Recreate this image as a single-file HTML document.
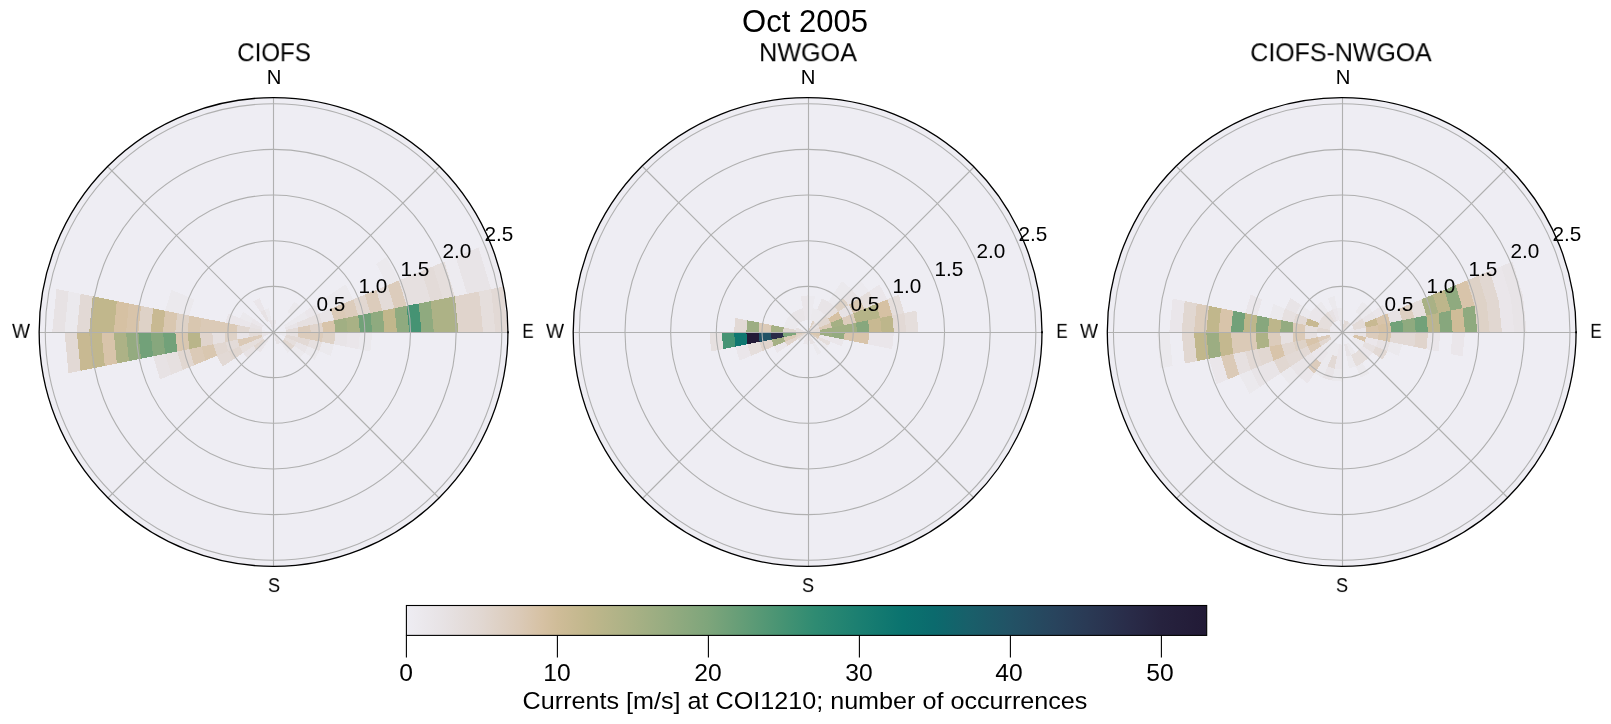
<!DOCTYPE html>
<html><head><meta charset="utf-8"><title>Oct 2005</title>
<style>
html,body{margin:0;padding:0;background:#fff;}
body{width:1611px;height:724px;position:relative;overflow:hidden;font-family:"Liberation Sans",sans-serif;color:#000;}
.t{position:absolute;white-space:nowrap;line-height:1;will-change:transform;}
</style></head><body>
<svg width="1611" height="724" viewBox="0 0 1611 724" style="position:absolute;left:0;top:0">
<defs>
<clipPath id="clip0"><circle cx="273.55" cy="332.00" r="234.40"/></clipPath>
<clipPath id="clip1"><circle cx="807.60" cy="332.00" r="234.40"/></clipPath>
<clipPath id="clip2"><circle cx="1341.70" cy="332.00" r="234.40"/></clipPath>
<linearGradient id="cb" x1="0" y1="0" x2="1" y2="0">
<stop offset="0.0000" stop-color="#eeedf3"/>
<stop offset="0.0470" stop-color="#e7e2e4"/>
<stop offset="0.0940" stop-color="#e1d7d1"/>
<stop offset="0.1400" stop-color="#dbcab8"/>
<stop offset="0.1700" stop-color="#d6c1a3"/>
<stop offset="0.1890" stop-color="#cfbc98"/>
<stop offset="0.2260" stop-color="#c1b78c"/>
<stop offset="0.2830" stop-color="#a9b185"/>
<stop offset="0.3300" stop-color="#94ab80"/>
<stop offset="0.3770" stop-color="#7ea57b"/>
<stop offset="0.4200" stop-color="#649d77"/>
<stop offset="0.4700" stop-color="#469373"/>
<stop offset="0.5100" stop-color="#2f8b72"/>
<stop offset="0.5660" stop-color="#1b7f71"/>
<stop offset="0.6200" stop-color="#0a736f"/>
<stop offset="0.6600" stop-color="#0b6a6d"/>
<stop offset="0.7000" stop-color="#18606a"/>
<stop offset="0.7550" stop-color="#225265"/>
<stop offset="0.8100" stop-color="#28445d"/>
<stop offset="0.8500" stop-color="#2a3a55"/>
<stop offset="0.9060" stop-color="#292b48"/>
<stop offset="0.9430" stop-color="#26223e"/>
<stop offset="1.0000" stop-color="#221a36"/>
</linearGradient>
</defs>
<g clip-path="url(#clip0)">
<circle cx="273.55" cy="332.00" r="234.40" fill="#eeedf3"/>
<polygon points="273.80,332.30 273.80,319.99 276.20,320.23 273.80,332.30" fill="#eae6ea" shape-rendering="crispEdges"/>
<polygon points="287.48,311.83 294.32,301.59 299.91,306.19 291.21,314.89" fill="#ebe9ed" shape-rendering="crispEdges"/>
<polygon points="284.04,325.46 294.27,318.62 296.55,322.88 285.17,327.59" fill="#ebe9ed" shape-rendering="crispEdges"/>
<polygon points="294.27,318.62 304.51,311.78 307.92,318.17 296.55,322.88" fill="#ebe9ed" shape-rendering="crispEdges"/>
<polygon points="304.51,311.78 314.74,304.94 319.29,313.46 307.92,318.17" fill="#eae6ea" shape-rendering="crispEdges"/>
<polygon points="324.98,298.10 335.21,291.27 342.04,304.04 330.66,308.75" fill="#ebe9ed" shape-rendering="crispEdges"/>
<polygon points="335.21,291.27 345.45,284.43 353.41,299.32 342.04,304.04" fill="#ebe9ed" shape-rendering="crispEdges"/>
<polygon points="376.15,263.91 386.39,257.07 398.90,280.48 387.53,285.19" fill="#ebe9ed" shape-rendering="crispEdges"/>
<polygon points="285.17,327.59 296.55,322.88 297.95,327.50 285.87,329.90" fill="#e8e4e7" shape-rendering="crispEdges"/>
<polygon points="296.55,322.88 307.92,318.17 310.02,325.10 297.95,327.50" fill="#e6e0e0" shape-rendering="crispEdges"/>
<polygon points="307.92,318.17 319.29,313.46 322.09,322.69 310.02,325.10" fill="#e6e0e0" shape-rendering="crispEdges"/>
<polygon points="319.29,313.46 330.66,308.75 334.17,320.29 322.09,322.69" fill="#e8e4e7" shape-rendering="crispEdges"/>
<polygon points="330.66,308.75 342.04,304.04 346.24,317.89 334.17,320.29" fill="#dbcab7" shape-rendering="crispEdges"/>
<polygon points="342.04,304.04 353.41,299.32 358.31,315.49 346.24,317.89" fill="#dcccbc" shape-rendering="crispEdges"/>
<polygon points="353.41,299.32 364.78,294.61 370.39,313.09 358.31,315.49" fill="#e1d7d1" shape-rendering="crispEdges"/>
<polygon points="364.78,294.61 376.16,289.90 382.46,310.69 370.39,313.09" fill="#dcccbc" shape-rendering="crispEdges"/>
<polygon points="376.16,289.90 387.53,285.19 394.53,308.28 382.46,310.69" fill="#e3dbd8" shape-rendering="crispEdges"/>
<polygon points="387.53,285.19 398.90,280.48 406.61,305.88 394.53,308.28" fill="#dcccbc" shape-rendering="crispEdges"/>
<polygon points="398.90,280.48 410.28,275.77 418.68,303.48 406.61,305.88" fill="#e6e0e0" shape-rendering="crispEdges"/>
<polygon points="410.28,275.77 421.65,271.06 430.76,301.08 418.68,303.48" fill="#e6e0e0" shape-rendering="crispEdges"/>
<polygon points="421.65,271.06 433.02,266.35 442.83,298.68 430.76,301.08" fill="#e3dbd8" shape-rendering="crispEdges"/>
<polygon points="433.02,266.35 444.39,261.64 454.90,296.28 442.83,298.68" fill="#e5dedc" shape-rendering="crispEdges"/>
<polygon points="444.39,261.64 455.77,256.93 466.98,293.88 454.90,296.28" fill="#edebf0" shape-rendering="crispEdges"/>
<polygon points="455.77,256.93 467.14,252.22 479.05,291.47 466.98,293.88" fill="#e8e4e7" shape-rendering="crispEdges"/>
<polygon points="467.14,252.22 478.51,247.51 491.12,289.07 479.05,291.47" fill="#e8e4e7" shape-rendering="crispEdges"/>
<polygon points="478.51,247.51 489.89,242.79 503.20,286.67 491.12,289.07" fill="#edebf0" shape-rendering="crispEdges"/>
<polygon points="273.80,332.30 285.87,329.90 286.11,332.30 273.80,332.30" fill="#edebf0" shape-rendering="crispEdges"/>
<polygon points="285.87,329.90 297.95,327.50 298.42,332.30 286.11,332.30" fill="#e3dbd8" shape-rendering="crispEdges"/>
<polygon points="297.95,327.50 310.02,325.10 310.73,332.30 298.42,332.30" fill="#dcccbc" shape-rendering="crispEdges"/>
<polygon points="310.02,325.10 322.09,322.69 323.04,332.30 310.73,332.30" fill="#e0d4cc" shape-rendering="crispEdges"/>
<polygon points="322.09,322.69 334.17,320.29 335.35,332.30 323.04,332.30" fill="#d8c4aa" shape-rendering="crispEdges"/>
<polygon points="334.17,320.29 346.24,317.89 347.66,332.30 335.35,332.30" fill="#a1af83" shape-rendering="crispEdges"/>
<polygon points="346.24,317.89 358.31,315.49 359.97,332.30 347.66,332.30" fill="#a9b185" shape-rendering="crispEdges"/>
<polygon points="358.31,315.49 370.39,313.09 372.28,332.30 359.97,332.30" fill="#72a179" shape-rendering="crispEdges"/>
<polygon points="370.39,313.09 382.46,310.69 384.59,332.30 372.28,332.30" fill="#8faa7f" shape-rendering="crispEdges"/>
<polygon points="382.46,310.69 394.53,308.28 396.90,332.30 384.59,332.30" fill="#c1b78c" shape-rendering="crispEdges"/>
<polygon points="394.53,308.28 406.61,305.88 409.21,332.30 396.90,332.30" fill="#8faa7f" shape-rendering="crispEdges"/>
<polygon points="406.61,305.88 418.68,303.48 421.52,332.30 409.21,332.30" fill="#459373" shape-rendering="crispEdges"/>
<polygon points="418.68,303.48 430.76,301.08 433.83,332.30 421.52,332.30" fill="#8faa7f" shape-rendering="crispEdges"/>
<polygon points="430.76,301.08 442.83,298.68 446.14,332.30 433.83,332.30" fill="#adb286" shape-rendering="crispEdges"/>
<polygon points="442.83,298.68 454.90,296.28 458.45,332.30 446.14,332.30" fill="#adb286" shape-rendering="crispEdges"/>
<polygon points="454.90,296.28 466.98,293.88 470.76,332.30 458.45,332.30" fill="#e0d4cc" shape-rendering="crispEdges"/>
<polygon points="466.98,293.88 479.05,291.47 483.07,332.30 470.76,332.30" fill="#e0d4cc" shape-rendering="crispEdges"/>
<polygon points="479.05,291.47 491.12,289.07 495.38,332.30 483.07,332.30" fill="#e5dedc" shape-rendering="crispEdges"/>
<polygon points="491.12,289.07 503.20,286.67 507.69,332.30 495.38,332.30" fill="#e2d9d5" shape-rendering="crispEdges"/>
<polygon points="273.80,332.30 286.11,332.30 285.87,334.70 273.80,332.30" fill="#ebe9ed" shape-rendering="crispEdges"/>
<polygon points="286.11,332.30 298.42,332.30 297.95,337.10 285.87,334.70" fill="#e6e0e0" shape-rendering="crispEdges"/>
<polygon points="298.42,332.30 310.73,332.30 310.02,339.50 297.95,337.10" fill="#dcccbc" shape-rendering="crispEdges"/>
<polygon points="310.73,332.30 323.04,332.30 322.09,341.91 310.02,339.50" fill="#dcccbc" shape-rendering="crispEdges"/>
<polygon points="323.04,332.30 335.35,332.30 334.17,344.31 322.09,341.91" fill="#ded2c7" shape-rendering="crispEdges"/>
<polygon points="335.35,332.30 347.66,332.30 346.24,346.71 334.17,344.31" fill="#e8e4e7" shape-rendering="crispEdges"/>
<polygon points="347.66,332.30 359.97,332.30 358.31,349.11 346.24,346.71" fill="#eae6ea" shape-rendering="crispEdges"/>
<polygon points="359.97,332.30 372.28,332.30 370.39,351.51 358.31,349.11" fill="#ebe9ed" shape-rendering="crispEdges"/>
<polygon points="273.80,332.30 285.87,334.70 285.17,337.01 273.80,332.30" fill="#ebe9ed" shape-rendering="crispEdges"/>
<polygon points="285.87,334.70 297.95,337.10 296.55,341.72 285.17,337.01" fill="#e2d9d5" shape-rendering="crispEdges"/>
<polygon points="297.95,337.10 310.02,339.50 307.92,346.43 296.55,341.72" fill="#e2d9d5" shape-rendering="crispEdges"/>
<polygon points="310.02,339.50 322.09,341.91 319.29,351.14 307.92,346.43" fill="#e6e0e0" shape-rendering="crispEdges"/>
<polygon points="322.09,341.91 334.17,344.31 330.66,355.85 319.29,351.14" fill="#ebe9ed" shape-rendering="crispEdges"/>
<polygon points="285.17,337.01 296.55,341.72 294.27,345.98 284.04,339.14" fill="#e5dedc" shape-rendering="crispEdges"/>
<polygon points="296.55,341.72 307.92,346.43 304.51,352.82 294.27,345.98" fill="#e8e4e7" shape-rendering="crispEdges"/>
<polygon points="307.92,346.43 319.29,351.14 314.74,359.66 304.51,352.82" fill="#ebe9ed" shape-rendering="crispEdges"/>
<polygon points="284.04,339.14 294.27,345.98 291.21,349.71 282.50,341.00" fill="#e1d7d1" shape-rendering="crispEdges"/>
<polygon points="294.27,345.98 304.51,352.82 299.91,358.41 291.21,349.71" fill="#ebe9ed" shape-rendering="crispEdges"/>
<polygon points="282.50,341.00 291.21,349.71 287.48,352.77 280.64,342.54" fill="#ebe9ed" shape-rendering="crispEdges"/>
<polygon points="273.80,332.30 280.64,342.54 278.51,343.67 273.80,332.30" fill="#e8e4e7" shape-rendering="crispEdges"/>
<polygon points="273.80,332.30 278.51,343.67 276.20,344.37 273.80,332.30" fill="#e8e4e7" shape-rendering="crispEdges"/>
<polygon points="273.80,332.30 266.96,342.54 265.10,341.00 273.80,332.30" fill="#eae6ea" shape-rendering="crispEdges"/>
<polygon points="266.96,342.54 260.12,352.77 256.39,349.71 265.10,341.00" fill="#eae6ea" shape-rendering="crispEdges"/>
<polygon points="265.10,341.00 256.39,349.71 253.33,345.98 263.56,339.14" fill="#e1d7d1" shape-rendering="crispEdges"/>
<polygon points="256.39,349.71 247.69,358.41 243.09,352.82 253.33,345.98" fill="#e7e2e4" shape-rendering="crispEdges"/>
<polygon points="263.56,339.14 253.33,345.98 251.05,341.72 262.43,337.01" fill="#e5dedc" shape-rendering="crispEdges"/>
<polygon points="253.33,345.98 243.09,352.82 239.68,346.43 251.05,341.72" fill="#e5dedc" shape-rendering="crispEdges"/>
<polygon points="243.09,352.82 232.86,359.66 228.31,351.14 239.68,346.43" fill="#e1d7d1" shape-rendering="crispEdges"/>
<polygon points="232.86,359.66 222.62,366.50 216.94,355.85 228.31,351.14" fill="#e2d9d5" shape-rendering="crispEdges"/>
<polygon points="273.80,332.30 262.43,337.01 261.73,334.70 273.80,332.30" fill="#e8e4e7" shape-rendering="crispEdges"/>
<polygon points="262.43,337.01 251.05,341.72 249.65,337.10 261.73,334.70" fill="#dcccbc" shape-rendering="crispEdges"/>
<polygon points="251.05,341.72 239.68,346.43 237.58,339.50 249.65,337.10" fill="#dbcab7" shape-rendering="crispEdges"/>
<polygon points="239.68,346.43 228.31,351.14 225.51,341.91 237.58,339.50" fill="#e3dbd8" shape-rendering="crispEdges"/>
<polygon points="228.31,351.14 216.94,355.85 213.43,344.31 225.51,341.91" fill="#e1d7d1" shape-rendering="crispEdges"/>
<polygon points="216.94,355.85 205.56,360.56 201.36,346.71 213.43,344.31" fill="#d9c7b0" shape-rendering="crispEdges"/>
<polygon points="205.56,360.56 194.19,365.28 189.29,349.11 201.36,346.71" fill="#dbcab7" shape-rendering="crispEdges"/>
<polygon points="194.19,365.28 182.82,369.99 177.21,351.51 189.29,349.11" fill="#e1d7d1" shape-rendering="crispEdges"/>
<polygon points="182.82,369.99 171.44,374.70 165.14,353.91 177.21,351.51" fill="#e6e0e0" shape-rendering="crispEdges"/>
<polygon points="171.44,374.70 160.07,379.41 153.07,356.32 165.14,353.91" fill="#e7e2e4" shape-rendering="crispEdges"/>
<polygon points="273.80,332.30 261.73,334.70 261.49,332.30 273.80,332.30" fill="#e8e4e7" shape-rendering="crispEdges"/>
<polygon points="261.73,334.70 249.65,337.10 249.18,332.30 261.49,332.30" fill="#e3dbd8" shape-rendering="crispEdges"/>
<polygon points="249.65,337.10 237.58,339.50 236.87,332.30 249.18,332.30" fill="#e8e4e7" shape-rendering="crispEdges"/>
<polygon points="237.58,339.50 225.51,341.91 224.56,332.30 236.87,332.30" fill="#ded2c7" shape-rendering="crispEdges"/>
<polygon points="225.51,341.91 213.43,344.31 212.25,332.30 224.56,332.30" fill="#e6e0e0" shape-rendering="crispEdges"/>
<polygon points="213.43,344.31 201.36,346.71 199.94,332.30 212.25,332.30" fill="#e0d4cc" shape-rendering="crispEdges"/>
<polygon points="201.36,346.71 189.29,349.11 187.63,332.30 199.94,332.30" fill="#b9b58a" shape-rendering="crispEdges"/>
<polygon points="189.29,349.11 177.21,351.51 175.32,332.30 187.63,332.30" fill="#d9c7b0" shape-rendering="crispEdges"/>
<polygon points="177.21,351.51 165.14,353.91 163.01,332.30 175.32,332.30" fill="#72a179" shape-rendering="crispEdges"/>
<polygon points="165.14,353.91 153.07,356.32 150.70,332.30 163.01,332.30" fill="#87a77d" shape-rendering="crispEdges"/>
<polygon points="153.07,356.32 140.99,358.72 138.39,332.30 150.70,332.30" fill="#72a179" shape-rendering="crispEdges"/>
<polygon points="140.99,358.72 128.92,361.12 126.08,332.30 138.39,332.30" fill="#94ab80" shape-rendering="crispEdges"/>
<polygon points="128.92,361.12 116.84,363.52 113.77,332.30 126.08,332.30" fill="#adb286" shape-rendering="crispEdges"/>
<polygon points="116.84,363.52 104.77,365.92 101.46,332.30 113.77,332.30" fill="#d8c4aa" shape-rendering="crispEdges"/>
<polygon points="104.77,365.92 92.70,368.32 89.15,332.30 101.46,332.30" fill="#c1b78c" shape-rendering="crispEdges"/>
<polygon points="92.70,368.32 80.62,370.72 76.84,332.30 89.15,332.30" fill="#c8b992" shape-rendering="crispEdges"/>
<polygon points="80.62,370.72 68.55,373.13 64.53,332.30 76.84,332.30" fill="#e2d9d5" shape-rendering="crispEdges"/>
<polygon points="273.80,332.30 261.49,332.30 261.73,329.90 273.80,332.30" fill="#ebe9ed" shape-rendering="crispEdges"/>
<polygon points="261.49,332.30 249.18,332.30 249.65,327.50 261.73,329.90" fill="#e6e0e0" shape-rendering="crispEdges"/>
<polygon points="249.18,332.30 236.87,332.30 237.58,325.10 249.65,327.50" fill="#e1d7d1" shape-rendering="crispEdges"/>
<polygon points="236.87,332.30 224.56,332.30 225.51,322.69 237.58,325.10" fill="#dbcab7" shape-rendering="crispEdges"/>
<polygon points="224.56,332.30 212.25,332.30 213.43,320.29 225.51,322.69" fill="#dbcab7" shape-rendering="crispEdges"/>
<polygon points="212.25,332.30 199.94,332.30 201.36,317.89 213.43,320.29" fill="#dbcab7" shape-rendering="crispEdges"/>
<polygon points="199.94,332.30 187.63,332.30 189.29,315.49 201.36,317.89" fill="#d9c7b0" shape-rendering="crispEdges"/>
<polygon points="187.63,332.30 175.32,332.30 177.21,313.09 189.29,315.49" fill="#ded2c7" shape-rendering="crispEdges"/>
<polygon points="175.32,332.30 163.01,332.30 165.14,310.69 177.21,313.09" fill="#d9c7b0" shape-rendering="crispEdges"/>
<polygon points="163.01,332.30 150.70,332.30 153.07,308.28 165.14,310.69" fill="#c8b992" shape-rendering="crispEdges"/>
<polygon points="150.70,332.30 138.39,332.30 140.99,305.88 153.07,308.28" fill="#ded2c7" shape-rendering="crispEdges"/>
<polygon points="138.39,332.30 126.08,332.30 128.92,303.48 140.99,305.88" fill="#d8c4aa" shape-rendering="crispEdges"/>
<polygon points="126.08,332.30 113.77,332.30 116.84,301.08 128.92,303.48" fill="#d6c1a3" shape-rendering="crispEdges"/>
<polygon points="113.77,332.30 101.46,332.30 104.77,298.68 116.84,301.08" fill="#c1b78c" shape-rendering="crispEdges"/>
<polygon points="101.46,332.30 89.15,332.30 92.70,296.28 104.77,298.68" fill="#c1b78c" shape-rendering="crispEdges"/>
<polygon points="89.15,332.30 76.84,332.30 80.62,293.88 92.70,296.28" fill="#e2d9d5" shape-rendering="crispEdges"/>
<polygon points="76.84,332.30 64.53,332.30 68.55,291.47 80.62,293.88" fill="#ebe9ed" shape-rendering="crispEdges"/>
<polygon points="64.53,332.30 52.22,332.30 56.48,289.07 68.55,291.47" fill="#e7e2e4" shape-rendering="crispEdges"/>
<polygon points="261.73,329.90 249.65,327.50 251.05,322.88 262.43,327.59" fill="#e7e2e4" shape-rendering="crispEdges"/>
<polygon points="249.65,327.50 237.58,325.10 239.68,318.17 251.05,322.88" fill="#eae6ea" shape-rendering="crispEdges"/>
<polygon points="237.58,325.10 225.51,322.69 228.31,313.46 239.68,318.17" fill="#eae6ea" shape-rendering="crispEdges"/>
<polygon points="189.29,315.49 177.21,313.09 182.82,294.61 194.19,299.32" fill="#ebe9ed" shape-rendering="crispEdges"/>
<polygon points="177.21,313.09 165.14,310.69 171.44,289.90 182.82,294.61" fill="#ebe9ed" shape-rendering="crispEdges"/>
<polygon points="262.43,327.59 251.05,322.88 253.33,318.62 263.56,325.46" fill="#eae6ea" shape-rendering="crispEdges"/>
<polygon points="251.05,322.88 239.68,318.17 243.09,311.78 253.33,318.62" fill="#ebe9ed" shape-rendering="crispEdges"/>
<polygon points="266.96,322.06 260.12,311.83 264.38,309.55 269.09,320.93" fill="#e7e2e4" shape-rendering="crispEdges"/>
<polygon points="260.12,311.83 253.28,301.59 259.67,298.18 264.38,309.55" fill="#eae6ea" shape-rendering="crispEdges"/>
<polygon points="273.80,332.30 269.09,320.93 271.40,320.23 273.80,332.30" fill="#e8e4e7" shape-rendering="crispEdges"/>
<polygon points="269.09,320.93 264.38,309.55 269.00,308.15 271.40,320.23" fill="#ebe9ed" shape-rendering="crispEdges"/>
<polygon points="273.80,332.30 271.40,320.23 273.80,319.99 273.80,332.30" fill="#eae6ea" shape-rendering="crispEdges"/>
<g stroke="#b0b0b0" stroke-width="1.1" fill="none">
<line x1="273.50" y1="97.60" x2="273.50" y2="566.40"/>
<line x1="39.15" y1="332.50" x2="507.95" y2="332.50"/>
<line x1="273.50" y1="332.50" x2="439.25" y2="166.75"/>
<line x1="273.50" y1="332.50" x2="439.25" y2="498.25"/>
<line x1="273.50" y1="332.50" x2="107.75" y2="498.25"/>
<line x1="273.50" y1="332.50" x2="107.75" y2="166.75"/>
<circle cx="273.55" cy="332.00" r="45.65"/>
<circle cx="273.55" cy="332.00" r="91.30"/>
<circle cx="273.55" cy="332.00" r="136.95"/>
<circle cx="273.55" cy="332.00" r="182.60"/>
<circle cx="273.55" cy="332.00" r="228.25"/>
</g>
</g>
<circle cx="273.55" cy="332.00" r="234.40" fill="none" stroke="#000" stroke-width="1.3"/>
<rect x="507.05" y="331.40" width="1.8" height="1.8" fill="#000"/>
<g clip-path="url(#clip1)">
<circle cx="807.60" cy="332.00" r="234.40" fill="#eeedf3"/>
<polygon points="807.80,320.00 807.80,307.70 812.60,308.17 810.20,320.24" fill="#eceaef" shape-rendering="crispEdges"/>
<polygon points="807.80,307.70 807.80,295.40 815.00,296.11 812.60,308.17" fill="#eceaef" shape-rendering="crispEdges"/>
<polygon points="810.20,320.24 812.60,308.17 817.21,309.57 812.51,320.94" fill="#ebe9ed" shape-rendering="crispEdges"/>
<polygon points="807.80,332.30 812.51,320.94 814.63,322.07 807.80,332.30" fill="#ded2c7" shape-rendering="crispEdges"/>
<polygon points="812.51,320.94 817.21,309.57 821.47,311.85 814.63,322.07" fill="#ebe9ed" shape-rendering="crispEdges"/>
<polygon points="817.21,309.57 821.92,298.21 828.30,301.62 821.47,311.85" fill="#e8e4e7" shape-rendering="crispEdges"/>
<polygon points="807.80,332.30 814.63,322.07 816.50,323.60 807.80,332.30" fill="#e6e0e0" shape-rendering="crispEdges"/>
<polygon points="814.63,322.07 821.47,311.85 825.19,314.91 816.50,323.60" fill="#ebe9ed" shape-rendering="crispEdges"/>
<polygon points="821.47,311.85 828.30,301.62 833.89,306.21 825.19,314.91" fill="#e8e4e7" shape-rendering="crispEdges"/>
<polygon points="828.30,301.62 835.13,291.39 842.59,297.51 833.89,306.21" fill="#ebe9ed" shape-rendering="crispEdges"/>
<polygon points="835.13,291.39 841.97,281.16 851.29,288.81 842.59,297.51" fill="#ebe9ed" shape-rendering="crispEdges"/>
<polygon points="807.80,332.30 816.50,323.60 818.03,325.47 807.80,332.30" fill="#e6e0e0" shape-rendering="crispEdges"/>
<polygon points="816.50,323.60 825.19,314.91 828.25,318.63 818.03,325.47" fill="#e1d7d1" shape-rendering="crispEdges"/>
<polygon points="825.19,314.91 833.89,306.21 838.48,311.80 828.25,318.63" fill="#e5dedc" shape-rendering="crispEdges"/>
<polygon points="833.89,306.21 842.59,297.51 848.71,304.97 838.48,311.80" fill="#ded2c7" shape-rendering="crispEdges"/>
<polygon points="842.59,297.51 851.29,288.81 858.94,298.13 848.71,304.97" fill="#e7e2e4" shape-rendering="crispEdges"/>
<polygon points="851.29,288.81 859.98,280.12 869.16,291.30 858.94,298.13" fill="#eceaef" shape-rendering="crispEdges"/>
<polygon points="807.80,332.30 818.03,325.47 819.16,327.59 807.80,332.30" fill="#e6e0e0" shape-rendering="crispEdges"/>
<polygon points="818.03,325.47 828.25,318.63 830.53,322.89 819.16,327.59" fill="#e1d7d1" shape-rendering="crispEdges"/>
<polygon points="828.25,318.63 838.48,311.80 841.89,318.18 830.53,322.89" fill="#d6c1a3" shape-rendering="crispEdges"/>
<polygon points="838.48,311.80 848.71,304.97 853.25,313.47 841.89,318.18" fill="#e7e2e4" shape-rendering="crispEdges"/>
<polygon points="848.71,304.97 858.94,298.13 864.62,308.76 853.25,313.47" fill="#d9c7b0" shape-rendering="crispEdges"/>
<polygon points="858.94,298.13 869.16,291.30 875.98,304.06 864.62,308.76" fill="#e5dedc" shape-rendering="crispEdges"/>
<polygon points="869.16,291.30 879.39,284.47 887.35,299.35 875.98,304.06" fill="#eae6ea" shape-rendering="crispEdges"/>
<polygon points="807.80,332.30 819.16,327.59 819.86,329.90 807.80,332.30" fill="#e3dbd8" shape-rendering="crispEdges"/>
<polygon points="819.16,327.59 830.53,322.89 831.93,327.50 819.86,329.90" fill="#dbcab7" shape-rendering="crispEdges"/>
<polygon points="830.53,322.89 841.89,318.18 843.99,325.10 831.93,327.50" fill="#a5b084" shape-rendering="crispEdges"/>
<polygon points="841.89,318.18 853.25,313.47 856.05,322.70 843.99,325.10" fill="#dcccbc" shape-rendering="crispEdges"/>
<polygon points="853.25,313.47 864.62,308.76 868.12,320.30 856.05,322.70" fill="#b5b488" shape-rendering="crispEdges"/>
<polygon points="864.62,308.76 875.98,304.06 880.18,317.90 868.12,320.30" fill="#b5b488" shape-rendering="crispEdges"/>
<polygon points="875.98,304.06 887.35,299.35 892.25,315.50 880.18,317.90" fill="#d6c1a3" shape-rendering="crispEdges"/>
<polygon points="887.35,299.35 898.71,294.64 904.31,313.10 892.25,315.50" fill="#e5dedc" shape-rendering="crispEdges"/>
<polygon points="807.80,332.30 819.86,329.90 820.10,332.30 807.80,332.30" fill="#e3dbd8" shape-rendering="crispEdges"/>
<polygon points="819.86,329.90 831.93,327.50 832.40,332.30 820.10,332.30" fill="#a1af83" shape-rendering="crispEdges"/>
<polygon points="831.93,327.50 843.99,325.10 844.70,332.30 832.40,332.30" fill="#a1af83" shape-rendering="crispEdges"/>
<polygon points="843.99,325.10 856.05,322.70 857.00,332.30 844.70,332.30" fill="#a1af83" shape-rendering="crispEdges"/>
<polygon points="856.05,322.70 868.12,320.30 869.30,332.30 857.00,332.30" fill="#87a77d" shape-rendering="crispEdges"/>
<polygon points="868.12,320.30 880.18,317.90 881.60,332.30 869.30,332.30" fill="#c8b992" shape-rendering="crispEdges"/>
<polygon points="880.18,317.90 892.25,315.50 893.90,332.30 881.60,332.30" fill="#bdb68b" shape-rendering="crispEdges"/>
<polygon points="892.25,315.50 904.31,313.10 906.20,332.30 893.90,332.30" fill="#e2d9d5" shape-rendering="crispEdges"/>
<polygon points="904.31,313.10 916.37,310.70 918.50,332.30 906.20,332.30" fill="#e5dedc" shape-rendering="crispEdges"/>
<polygon points="807.80,332.30 820.10,332.30 819.86,334.70 807.80,332.30" fill="#d9c7b0" shape-rendering="crispEdges"/>
<polygon points="820.10,332.30 832.40,332.30 831.93,337.10 819.86,334.70" fill="#9cad82" shape-rendering="crispEdges"/>
<polygon points="832.40,332.30 844.70,332.30 843.99,339.50 831.93,337.10" fill="#94ab80" shape-rendering="crispEdges"/>
<polygon points="844.70,332.30 857.00,332.30 856.05,341.90 843.99,339.50" fill="#d8c4aa" shape-rendering="crispEdges"/>
<polygon points="857.00,332.30 869.30,332.30 868.12,344.30 856.05,341.90" fill="#d8c4aa" shape-rendering="crispEdges"/>
<polygon points="869.30,332.30 881.60,332.30 880.18,346.70 868.12,344.30" fill="#eae6ea" shape-rendering="crispEdges"/>
<polygon points="881.60,332.30 893.90,332.30 892.25,349.10 880.18,346.70" fill="#eae6ea" shape-rendering="crispEdges"/>
<polygon points="807.80,332.30 819.86,334.70 819.16,337.01 807.80,332.30" fill="#d9c7b0" shape-rendering="crispEdges"/>
<polygon points="819.86,334.70 831.93,337.10 830.53,341.71 819.16,337.01" fill="#eae6ea" shape-rendering="crispEdges"/>
<polygon points="831.93,337.10 843.99,339.50 841.89,346.42 830.53,341.71" fill="#eae6ea" shape-rendering="crispEdges"/>
<polygon points="807.80,332.30 819.16,337.01 818.03,339.13 807.80,332.30" fill="#dcccbc" shape-rendering="crispEdges"/>
<polygon points="819.16,337.01 830.53,341.71 828.25,345.97 818.03,339.13" fill="#e5dedc" shape-rendering="crispEdges"/>
<polygon points="807.80,332.30 818.03,339.13 816.50,341.00 807.80,332.30" fill="#e8e4e7" shape-rendering="crispEdges"/>
<polygon points="818.03,339.13 828.25,345.97 825.19,349.69 816.50,341.00" fill="#ebe9ed" shape-rendering="crispEdges"/>
<polygon points="807.80,332.30 814.63,342.53 812.51,343.66 807.80,332.30" fill="#e7e2e4" shape-rendering="crispEdges"/>
<polygon points="814.63,342.53 821.47,352.75 817.21,355.03 812.51,343.66" fill="#ebe9ed" shape-rendering="crispEdges"/>
<polygon points="807.80,332.30 812.51,343.66 810.20,344.36 807.80,332.30" fill="#e7e2e4" shape-rendering="crispEdges"/>
<polygon points="807.80,332.30 807.80,344.60 805.40,344.36 807.80,332.30" fill="#eae6ea" shape-rendering="crispEdges"/>
<polygon points="807.80,332.30 805.40,344.36 803.09,343.66 807.80,332.30" fill="#eae6ea" shape-rendering="crispEdges"/>
<polygon points="807.80,332.30 799.10,341.00 797.57,339.13 807.80,332.30" fill="#e6e0e0" shape-rendering="crispEdges"/>
<polygon points="807.80,332.30 797.57,339.13 796.44,337.01 807.80,332.30" fill="#e1d7d1" shape-rendering="crispEdges"/>
<polygon points="797.57,339.13 787.35,345.97 785.07,341.71 796.44,337.01" fill="#e0d4cc" shape-rendering="crispEdges"/>
<polygon points="787.35,345.97 777.12,352.80 773.71,346.42 785.07,341.71" fill="#eae6ea" shape-rendering="crispEdges"/>
<polygon points="807.80,332.30 796.44,337.01 795.74,334.70 807.80,332.30" fill="#ded2c7" shape-rendering="crispEdges"/>
<polygon points="796.44,337.01 785.07,341.71 783.67,337.10 795.74,334.70" fill="#dbcab7" shape-rendering="crispEdges"/>
<polygon points="785.07,341.71 773.71,346.42 771.61,339.50 783.67,337.10" fill="#a5b084" shape-rendering="crispEdges"/>
<polygon points="773.71,346.42 762.35,351.13 759.55,341.90 771.61,339.50" fill="#e0d4cc" shape-rendering="crispEdges"/>
<polygon points="762.35,351.13 750.98,355.84 747.48,344.30 759.55,341.90" fill="#e5dedc" shape-rendering="crispEdges"/>
<polygon points="750.98,355.84 739.62,360.54 735.42,346.70 747.48,344.30" fill="#eae6ea" shape-rendering="crispEdges"/>
<polygon points="807.80,332.30 795.74,334.70 795.50,332.30 807.80,332.30" fill="#dcccbc" shape-rendering="crispEdges"/>
<polygon points="795.74,334.70 783.67,337.10 783.20,332.30 795.50,332.30" fill="#7ea57b" shape-rendering="crispEdges"/>
<polygon points="783.67,337.10 771.61,339.50 770.90,332.30 783.20,332.30" fill="#292b48" shape-rendering="crispEdges"/>
<polygon points="771.61,339.50 759.55,341.90 758.60,332.30 770.90,332.30" fill="#225265" shape-rendering="crispEdges"/>
<polygon points="759.55,341.90 747.48,344.30 746.30,332.30 758.60,332.30" fill="#221a36" shape-rendering="crispEdges"/>
<polygon points="747.48,344.30 735.42,346.70 734.00,332.30 746.30,332.30" fill="#0f7770" shape-rendering="crispEdges"/>
<polygon points="735.42,346.70 723.35,349.10 721.70,332.30 734.00,332.30" fill="#459373" shape-rendering="crispEdges"/>
<polygon points="723.35,349.10 711.29,351.50 709.40,332.30 721.70,332.30" fill="#e6e0e0" shape-rendering="crispEdges"/>
<polygon points="807.80,332.30 795.50,332.30 795.74,329.90 807.80,332.30" fill="#e6e0e0" shape-rendering="crispEdges"/>
<polygon points="795.50,332.30 783.20,332.30 783.67,327.50 795.74,329.90" fill="#e1d7d1" shape-rendering="crispEdges"/>
<polygon points="783.20,332.30 770.90,332.30 771.61,325.10 783.67,327.50" fill="#a5b084" shape-rendering="crispEdges"/>
<polygon points="770.90,332.30 758.60,332.30 759.55,322.70 771.61,325.10" fill="#dbcab7" shape-rendering="crispEdges"/>
<polygon points="758.60,332.30 746.30,332.30 747.48,320.30 759.55,322.70" fill="#9cad82" shape-rendering="crispEdges"/>
<polygon points="746.30,332.30 734.00,332.30 735.42,317.90 747.48,320.30" fill="#e2d9d5" shape-rendering="crispEdges"/>
<polygon points="807.80,332.30 795.74,329.90 796.44,327.59 807.80,332.30" fill="#e6e0e0" shape-rendering="crispEdges"/>
<polygon points="795.74,329.90 783.67,327.50 785.07,322.89 796.44,327.59" fill="#ebe9ed" shape-rendering="crispEdges"/>
<polygon points="796.44,327.59 785.07,322.89 787.35,318.63 797.57,325.47" fill="#ebe9ed" shape-rendering="crispEdges"/>
<polygon points="797.57,325.47 787.35,318.63 790.41,314.91 799.10,323.60" fill="#ebe9ed" shape-rendering="crispEdges"/>
<polygon points="799.10,323.60 790.41,314.91 794.13,311.85 800.97,322.07" fill="#e8e4e7" shape-rendering="crispEdges"/>
<polygon points="800.97,322.07 794.13,311.85 798.39,309.57 803.09,320.94" fill="#e8e4e7" shape-rendering="crispEdges"/>
<polygon points="803.09,320.94 798.39,309.57 803.00,308.17 805.40,320.24" fill="#e8e4e7" shape-rendering="crispEdges"/>
<polygon points="805.40,320.24 803.00,308.17 807.80,307.70 807.80,320.00" fill="#eae6ea" shape-rendering="crispEdges"/>
<polygon points="803.00,308.17 800.60,296.11 807.80,295.40 807.80,307.70" fill="#eae6ea" shape-rendering="crispEdges"/>
<g stroke="#b0b0b0" stroke-width="1.1" fill="none">
<line x1="808.50" y1="97.60" x2="808.50" y2="566.40"/>
<line x1="573.20" y1="332.50" x2="1042.00" y2="332.50"/>
<line x1="808.50" y1="332.50" x2="974.25" y2="166.75"/>
<line x1="808.50" y1="332.50" x2="974.25" y2="498.25"/>
<line x1="808.50" y1="332.50" x2="642.75" y2="498.25"/>
<line x1="808.50" y1="332.50" x2="642.75" y2="166.75"/>
<circle cx="807.60" cy="332.00" r="45.65"/>
<circle cx="807.60" cy="332.00" r="91.30"/>
<circle cx="807.60" cy="332.00" r="136.95"/>
<circle cx="807.60" cy="332.00" r="182.60"/>
<circle cx="807.60" cy="332.00" r="228.25"/>
</g>
</g>
<circle cx="807.60" cy="332.00" r="234.40" fill="none" stroke="#000" stroke-width="1.3"/>
<rect x="1041.10" y="331.40" width="1.8" height="1.8" fill="#000"/>
<g clip-path="url(#clip2)">
<circle cx="1341.70" cy="332.00" r="234.40" fill="#eeedf3"/>
<polygon points="1341.80,332.30 1344.20,320.22 1346.51,320.92 1341.80,332.30" fill="#e3dbd8" shape-rendering="crispEdges"/>
<polygon points="1341.80,332.30 1346.51,320.92 1348.64,322.06 1341.80,332.30" fill="#e3dbd8" shape-rendering="crispEdges"/>
<polygon points="1341.80,332.30 1348.64,322.06 1350.51,323.59 1341.80,332.30" fill="#e6e0e0" shape-rendering="crispEdges"/>
<polygon points="1355.49,311.81 1362.33,301.57 1367.93,306.17 1359.22,314.88" fill="#ebe9ed" shape-rendering="crispEdges"/>
<polygon points="1350.51,323.59 1359.22,314.88 1362.29,318.61 1352.04,325.46" fill="#e8e4e7" shape-rendering="crispEdges"/>
<polygon points="1359.22,314.88 1367.93,306.17 1372.53,311.77 1362.29,318.61" fill="#ebe9ed" shape-rendering="crispEdges"/>
<polygon points="1352.04,325.46 1362.29,318.61 1364.56,322.87 1353.18,327.59" fill="#e3dbd8" shape-rendering="crispEdges"/>
<polygon points="1362.29,318.61 1372.53,311.77 1375.95,318.16 1364.56,322.87" fill="#e8e4e7" shape-rendering="crispEdges"/>
<polygon points="1372.53,311.77 1382.77,304.92 1387.33,313.44 1375.95,318.16" fill="#eae6ea" shape-rendering="crispEdges"/>
<polygon points="1341.80,332.30 1353.18,327.59 1353.88,329.90 1341.80,332.30" fill="#ebe9ed" shape-rendering="crispEdges"/>
<polygon points="1353.18,327.59 1364.56,322.87 1365.97,327.49 1353.88,329.90" fill="#e3dbd8" shape-rendering="crispEdges"/>
<polygon points="1364.56,322.87 1375.95,318.16 1378.05,325.09 1365.97,327.49" fill="#c8b992" shape-rendering="crispEdges"/>
<polygon points="1375.95,318.16 1387.33,313.44 1390.13,322.69 1378.05,325.09" fill="#d8c4aa" shape-rendering="crispEdges"/>
<polygon points="1387.33,313.44 1398.71,308.73 1402.22,320.28 1390.13,322.69" fill="#e7e2e4" shape-rendering="crispEdges"/>
<polygon points="1398.71,308.73 1410.09,304.01 1414.30,317.88 1402.22,320.28" fill="#ddcfc1" shape-rendering="crispEdges"/>
<polygon points="1410.09,304.01 1421.48,299.30 1426.38,315.48 1414.30,317.88" fill="#e5dedc" shape-rendering="crispEdges"/>
<polygon points="1421.48,299.30 1432.86,294.58 1438.47,313.07 1426.38,315.48" fill="#a9b185" shape-rendering="crispEdges"/>
<polygon points="1432.86,294.58 1444.24,289.87 1450.55,310.67 1438.47,313.07" fill="#bdb68b" shape-rendering="crispEdges"/>
<polygon points="1444.24,289.87 1455.62,285.15 1462.63,308.26 1450.55,310.67" fill="#8faa7f" shape-rendering="crispEdges"/>
<polygon points="1455.62,285.15 1467.00,280.44 1474.72,305.86 1462.63,308.26" fill="#d8c4aa" shape-rendering="crispEdges"/>
<polygon points="1467.00,280.44 1478.39,275.72 1486.80,303.46 1474.72,305.86" fill="#ded2c7" shape-rendering="crispEdges"/>
<polygon points="1478.39,275.72 1489.77,271.01 1498.88,301.05 1486.80,303.46" fill="#e1d7d1" shape-rendering="crispEdges"/>
<polygon points="1489.77,271.01 1501.15,266.29 1510.97,298.65 1498.88,301.05" fill="#eae6ea" shape-rendering="crispEdges"/>
<polygon points="1501.15,266.29 1512.53,261.58 1523.05,296.25 1510.97,298.65" fill="#e8e4e7" shape-rendering="crispEdges"/>
<polygon points="1341.80,332.30 1353.88,329.90 1354.12,332.30 1341.80,332.30" fill="#eae6ea" shape-rendering="crispEdges"/>
<polygon points="1353.88,329.90 1365.97,327.49 1366.44,332.30 1354.12,332.30" fill="#e8e4e7" shape-rendering="crispEdges"/>
<polygon points="1365.97,327.49 1378.05,325.09 1378.76,332.30 1366.44,332.30" fill="#d8c4aa" shape-rendering="crispEdges"/>
<polygon points="1378.05,325.09 1390.13,322.69 1391.08,332.30 1378.76,332.30" fill="#d6c1a3" shape-rendering="crispEdges"/>
<polygon points="1390.13,322.69 1402.22,320.28 1403.40,332.30 1391.08,332.30" fill="#72a179" shape-rendering="crispEdges"/>
<polygon points="1402.22,320.28 1414.30,317.88 1415.72,332.30 1403.40,332.30" fill="#8faa7f" shape-rendering="crispEdges"/>
<polygon points="1414.30,317.88 1426.38,315.48 1428.04,332.30 1415.72,332.30" fill="#72a179" shape-rendering="crispEdges"/>
<polygon points="1426.38,315.48 1438.47,313.07 1440.36,332.30 1428.04,332.30" fill="#bdb68b" shape-rendering="crispEdges"/>
<polygon points="1438.47,313.07 1450.55,310.67 1452.68,332.30 1440.36,332.30" fill="#87a77d" shape-rendering="crispEdges"/>
<polygon points="1450.55,310.67 1462.63,308.26 1465.00,332.30 1452.68,332.30" fill="#cfbc98" shape-rendering="crispEdges"/>
<polygon points="1462.63,308.26 1474.72,305.86 1477.32,332.30 1465.00,332.30" fill="#8faa7f" shape-rendering="crispEdges"/>
<polygon points="1474.72,305.86 1486.80,303.46 1489.64,332.30 1477.32,332.30" fill="#ded2c7" shape-rendering="crispEdges"/>
<polygon points="1486.80,303.46 1498.88,301.05 1501.96,332.30 1489.64,332.30" fill="#e1d7d1" shape-rendering="crispEdges"/>
<polygon points="1498.88,301.05 1510.97,298.65 1514.28,332.30 1501.96,332.30" fill="#eae6ea" shape-rendering="crispEdges"/>
<polygon points="1510.97,298.65 1523.05,296.25 1526.60,332.30 1514.28,332.30" fill="#e8e4e7" shape-rendering="crispEdges"/>
<polygon points="1341.80,332.30 1354.12,332.30 1353.88,334.70 1341.80,332.30" fill="#ebe9ed" shape-rendering="crispEdges"/>
<polygon points="1354.12,332.30 1366.44,332.30 1365.97,337.11 1353.88,334.70" fill="#e7e2e4" shape-rendering="crispEdges"/>
<polygon points="1366.44,332.30 1378.76,332.30 1378.05,339.51 1365.97,337.11" fill="#dcccbc" shape-rendering="crispEdges"/>
<polygon points="1378.76,332.30 1391.08,332.30 1390.13,341.91 1378.05,339.51" fill="#d9c7b0" shape-rendering="crispEdges"/>
<polygon points="1391.08,332.30 1403.40,332.30 1402.22,344.32 1390.13,341.91" fill="#e2d9d5" shape-rendering="crispEdges"/>
<polygon points="1403.40,332.30 1415.72,332.30 1414.30,346.72 1402.22,344.32" fill="#e2d9d5" shape-rendering="crispEdges"/>
<polygon points="1415.72,332.30 1428.04,332.30 1426.38,349.12 1414.30,346.72" fill="#e0d4cc" shape-rendering="crispEdges"/>
<polygon points="1428.04,332.30 1440.36,332.30 1438.47,351.53 1426.38,349.12" fill="#eae6ea" shape-rendering="crispEdges"/>
<polygon points="1452.68,332.30 1465.00,332.30 1462.63,356.34 1450.55,353.93" fill="#eae6ea" shape-rendering="crispEdges"/>
<polygon points="1341.80,332.30 1353.88,334.70 1353.18,337.01 1341.80,332.30" fill="#ebe9ed" shape-rendering="crispEdges"/>
<polygon points="1353.88,334.70 1365.97,337.11 1364.56,341.73 1353.18,337.01" fill="#d8c4aa" shape-rendering="crispEdges"/>
<polygon points="1365.97,337.11 1378.05,339.51 1375.95,346.44 1364.56,341.73" fill="#eae6ea" shape-rendering="crispEdges"/>
<polygon points="1378.05,339.51 1390.13,341.91 1387.33,351.16 1375.95,346.44" fill="#e7e2e4" shape-rendering="crispEdges"/>
<polygon points="1390.13,341.91 1402.22,344.32 1398.71,355.87 1387.33,351.16" fill="#ebe9ed" shape-rendering="crispEdges"/>
<polygon points="1353.18,337.01 1364.56,341.73 1362.29,345.99 1352.04,339.14" fill="#ebe9ed" shape-rendering="crispEdges"/>
<polygon points="1364.56,341.73 1375.95,346.44 1372.53,352.83 1362.29,345.99" fill="#e6e0e0" shape-rendering="crispEdges"/>
<polygon points="1375.95,346.44 1387.33,351.16 1382.77,359.68 1372.53,352.83" fill="#e2d9d5" shape-rendering="crispEdges"/>
<polygon points="1352.04,339.14 1362.29,345.99 1359.22,349.72 1350.51,341.01" fill="#ebe9ed" shape-rendering="crispEdges"/>
<polygon points="1362.29,345.99 1372.53,352.83 1367.93,358.43 1359.22,349.72" fill="#eae6ea" shape-rendering="crispEdges"/>
<polygon points="1359.22,349.72 1367.93,358.43 1362.33,363.03 1355.49,352.79" fill="#e5dedc" shape-rendering="crispEdges"/>
<polygon points="1348.64,342.54 1355.49,352.79 1351.23,355.06 1346.51,343.68" fill="#ebe9ed" shape-rendering="crispEdges"/>
<polygon points="1355.49,352.79 1362.33,363.03 1355.94,366.45 1351.23,355.06" fill="#e5dedc" shape-rendering="crispEdges"/>
<polygon points="1362.33,363.03 1369.18,373.27 1360.66,377.83 1355.94,366.45" fill="#ebe9ed" shape-rendering="crispEdges"/>
<polygon points="1346.51,343.68 1351.23,355.06 1346.61,356.47 1344.20,344.38" fill="#e8e4e7" shape-rendering="crispEdges"/>
<polygon points="1351.23,355.06 1355.94,366.45 1349.01,368.55 1346.61,356.47" fill="#ebe9ed" shape-rendering="crispEdges"/>
<polygon points="1341.80,344.62 1341.80,356.94 1336.99,356.47 1339.40,344.38" fill="#eae6ea" shape-rendering="crispEdges"/>
<polygon points="1341.80,356.94 1341.80,369.26 1334.59,368.55 1336.99,356.47" fill="#eae6ea" shape-rendering="crispEdges"/>
<polygon points="1341.80,369.26 1341.80,381.58 1332.19,380.63 1334.59,368.55" fill="#ebe9ed" shape-rendering="crispEdges"/>
<polygon points="1339.40,344.38 1336.99,356.47 1332.37,355.06 1337.09,343.68" fill="#ebe9ed" shape-rendering="crispEdges"/>
<polygon points="1336.99,356.47 1334.59,368.55 1327.66,366.45 1332.37,355.06" fill="#e2d9d5" shape-rendering="crispEdges"/>
<polygon points="1334.59,368.55 1332.19,380.63 1322.94,377.83 1327.66,366.45" fill="#e8e4e7" shape-rendering="crispEdges"/>
<polygon points="1337.09,343.68 1332.37,355.06 1328.11,352.79 1334.96,342.54" fill="#ebe9ed" shape-rendering="crispEdges"/>
<polygon points="1332.37,355.06 1327.66,366.45 1321.27,363.03 1328.11,352.79" fill="#ebe9ed" shape-rendering="crispEdges"/>
<polygon points="1327.66,366.45 1322.94,377.83 1314.42,373.27 1321.27,363.03" fill="#ebe9ed" shape-rendering="crispEdges"/>
<polygon points="1334.96,342.54 1328.11,352.79 1324.38,349.72 1333.09,341.01" fill="#ebe9ed" shape-rendering="crispEdges"/>
<polygon points="1328.11,352.79 1321.27,363.03 1315.67,358.43 1324.38,349.72" fill="#eae6ea" shape-rendering="crispEdges"/>
<polygon points="1321.27,363.03 1314.42,373.27 1306.95,367.15 1315.67,358.43" fill="#dcccbc" shape-rendering="crispEdges"/>
<polygon points="1314.42,373.27 1307.58,383.52 1298.24,375.86 1306.95,367.15" fill="#eae6ea" shape-rendering="crispEdges"/>
<polygon points="1341.80,332.30 1333.09,341.01 1331.56,339.14 1341.80,332.30" fill="#ebe9ed" shape-rendering="crispEdges"/>
<polygon points="1333.09,341.01 1324.38,349.72 1321.31,345.99 1331.56,339.14" fill="#ebe9ed" shape-rendering="crispEdges"/>
<polygon points="1324.38,349.72 1315.67,358.43 1311.07,352.83 1321.31,345.99" fill="#eae6ea" shape-rendering="crispEdges"/>
<polygon points="1315.67,358.43 1306.95,367.15 1300.83,359.68 1311.07,352.83" fill="#e8e4e7" shape-rendering="crispEdges"/>
<polygon points="1306.95,367.15 1298.24,375.86 1290.58,366.52 1300.83,359.68" fill="#e8e4e7" shape-rendering="crispEdges"/>
<polygon points="1298.24,375.86 1289.53,384.57 1280.34,373.37 1290.58,366.52" fill="#ebe9ed" shape-rendering="crispEdges"/>
<polygon points="1341.80,332.30 1331.56,339.14 1330.42,337.01 1341.80,332.30" fill="#ebe9ed" shape-rendering="crispEdges"/>
<polygon points="1331.56,339.14 1321.31,345.99 1319.04,341.73 1330.42,337.01" fill="#e1d7d1" shape-rendering="crispEdges"/>
<polygon points="1321.31,345.99 1311.07,352.83 1307.65,346.44 1319.04,341.73" fill="#dbcab7" shape-rendering="crispEdges"/>
<polygon points="1311.07,352.83 1300.83,359.68 1296.27,351.16 1307.65,346.44" fill="#e2d9d5" shape-rendering="crispEdges"/>
<polygon points="1300.83,359.68 1290.58,366.52 1284.89,355.87 1296.27,351.16" fill="#e2d9d5" shape-rendering="crispEdges"/>
<polygon points="1290.58,366.52 1280.34,373.37 1273.51,360.59 1284.89,355.87" fill="#e1d7d1" shape-rendering="crispEdges"/>
<polygon points="1280.34,373.37 1270.09,380.21 1262.12,365.30 1273.51,360.59" fill="#e8e4e7" shape-rendering="crispEdges"/>
<polygon points="1270.09,380.21 1259.85,387.06 1250.74,370.02 1262.12,365.30" fill="#e8e4e7" shape-rendering="crispEdges"/>
<polygon points="1259.85,387.06 1249.61,393.90 1239.36,374.73 1250.74,370.02" fill="#ebe9ed" shape-rendering="crispEdges"/>
<polygon points="1341.80,332.30 1330.42,337.01 1329.72,334.70 1341.80,332.30" fill="#ebe9ed" shape-rendering="crispEdges"/>
<polygon points="1330.42,337.01 1319.04,341.73 1317.63,337.11 1329.72,334.70" fill="#dcccbc" shape-rendering="crispEdges"/>
<polygon points="1319.04,341.73 1307.65,346.44 1305.55,339.51 1317.63,337.11" fill="#d8c4aa" shape-rendering="crispEdges"/>
<polygon points="1307.65,346.44 1296.27,351.16 1293.47,341.91 1305.55,339.51" fill="#ded2c7" shape-rendering="crispEdges"/>
<polygon points="1296.27,351.16 1284.89,355.87 1281.38,344.32 1293.47,341.91" fill="#e1d7d1" shape-rendering="crispEdges"/>
<polygon points="1284.89,355.87 1273.51,360.59 1269.30,346.72 1281.38,344.32" fill="#d8c4aa" shape-rendering="crispEdges"/>
<polygon points="1273.51,360.59 1262.12,365.30 1257.22,349.12 1269.30,346.72" fill="#e1d7d1" shape-rendering="crispEdges"/>
<polygon points="1262.12,365.30 1250.74,370.02 1245.13,351.53 1257.22,349.12" fill="#e2d9d5" shape-rendering="crispEdges"/>
<polygon points="1250.74,370.02 1239.36,374.73 1233.05,353.93 1245.13,351.53" fill="#e6e0e0" shape-rendering="crispEdges"/>
<polygon points="1239.36,374.73 1227.98,379.45 1220.97,356.34 1233.05,353.93" fill="#dbcab7" shape-rendering="crispEdges"/>
<polygon points="1227.98,379.45 1216.60,384.16 1208.88,358.74 1220.97,356.34" fill="#eae6ea" shape-rendering="crispEdges"/>
<polygon points="1341.80,332.30 1329.72,334.70 1329.48,332.30 1341.80,332.30" fill="#ebe9ed" shape-rendering="crispEdges"/>
<polygon points="1317.63,337.11 1305.55,339.51 1304.84,332.30 1317.16,332.30" fill="#e6e0e0" shape-rendering="crispEdges"/>
<polygon points="1305.55,339.51 1293.47,341.91 1292.52,332.30 1304.84,332.30" fill="#dbcab7" shape-rendering="crispEdges"/>
<polygon points="1293.47,341.91 1281.38,344.32 1280.20,332.30 1292.52,332.30" fill="#e6e0e0" shape-rendering="crispEdges"/>
<polygon points="1281.38,344.32 1269.30,346.72 1267.88,332.30 1280.20,332.30" fill="#dcccbc" shape-rendering="crispEdges"/>
<polygon points="1269.30,346.72 1257.22,349.12 1255.56,332.30 1267.88,332.30" fill="#adb286" shape-rendering="crispEdges"/>
<polygon points="1257.22,349.12 1245.13,351.53 1243.24,332.30 1255.56,332.30" fill="#dbcab7" shape-rendering="crispEdges"/>
<polygon points="1245.13,351.53 1233.05,353.93 1230.92,332.30 1243.24,332.30" fill="#dbcab7" shape-rendering="crispEdges"/>
<polygon points="1233.05,353.93 1220.97,356.34 1218.60,332.30 1230.92,332.30" fill="#c4b88f" shape-rendering="crispEdges"/>
<polygon points="1220.97,356.34 1208.88,358.74 1206.28,332.30 1218.60,332.30" fill="#9cad82" shape-rendering="crispEdges"/>
<polygon points="1208.88,358.74 1196.80,361.14 1193.96,332.30 1206.28,332.30" fill="#c1b78c" shape-rendering="crispEdges"/>
<polygon points="1196.80,361.14 1184.72,363.55 1181.64,332.30 1193.96,332.30" fill="#e1d7d1" shape-rendering="crispEdges"/>
<polygon points="1172.63,365.95 1160.55,368.35 1157.00,332.30 1169.32,332.30" fill="#ebe9ed" shape-rendering="crispEdges"/>
<polygon points="1341.80,332.30 1329.48,332.30 1329.72,329.90 1341.80,332.30" fill="#eae6ea" shape-rendering="crispEdges"/>
<polygon points="1329.48,332.30 1317.16,332.30 1317.63,327.49 1329.72,329.90" fill="#e1d7d1" shape-rendering="crispEdges"/>
<polygon points="1317.16,332.30 1304.84,332.30 1305.55,325.09 1317.63,327.49" fill="#e5dedc" shape-rendering="crispEdges"/>
<polygon points="1304.84,332.30 1292.52,332.30 1293.47,322.69 1305.55,325.09" fill="#dbcab7" shape-rendering="crispEdges"/>
<polygon points="1292.52,332.30 1280.20,332.30 1281.38,320.28 1293.47,322.69" fill="#94ab80" shape-rendering="crispEdges"/>
<polygon points="1280.20,332.30 1267.88,332.30 1269.30,317.88 1281.38,320.28" fill="#bdb68b" shape-rendering="crispEdges"/>
<polygon points="1267.88,332.30 1255.56,332.30 1257.22,315.48 1269.30,317.88" fill="#87a77d" shape-rendering="crispEdges"/>
<polygon points="1255.56,332.30 1243.24,332.30 1245.13,313.07 1257.22,315.48" fill="#bdb68b" shape-rendering="crispEdges"/>
<polygon points="1243.24,332.30 1230.92,332.30 1233.05,310.67 1245.13,313.07" fill="#72a179" shape-rendering="crispEdges"/>
<polygon points="1230.92,332.30 1218.60,332.30 1220.97,308.26 1233.05,310.67" fill="#d8c4aa" shape-rendering="crispEdges"/>
<polygon points="1218.60,332.30 1206.28,332.30 1208.88,305.86 1220.97,308.26" fill="#c1b78c" shape-rendering="crispEdges"/>
<polygon points="1206.28,332.30 1193.96,332.30 1196.80,303.46 1208.88,305.86" fill="#dcccbc" shape-rendering="crispEdges"/>
<polygon points="1193.96,332.30 1181.64,332.30 1184.72,301.05 1196.80,303.46" fill="#e1d7d1" shape-rendering="crispEdges"/>
<polygon points="1181.64,332.30 1169.32,332.30 1172.63,298.65 1184.72,301.05" fill="#eae6ea" shape-rendering="crispEdges"/>
<polygon points="1341.80,332.30 1329.72,329.90 1330.42,327.59 1341.80,332.30" fill="#ebe9ed" shape-rendering="crispEdges"/>
<polygon points="1329.72,329.90 1317.63,327.49 1319.04,322.87 1330.42,327.59" fill="#e5dedc" shape-rendering="crispEdges"/>
<polygon points="1317.63,327.49 1305.55,325.09 1307.65,318.16 1319.04,322.87" fill="#c8b992" shape-rendering="crispEdges"/>
<polygon points="1305.55,325.09 1293.47,322.69 1296.27,313.44 1307.65,318.16" fill="#e2d9d5" shape-rendering="crispEdges"/>
<polygon points="1293.47,322.69 1281.38,320.28 1284.89,308.73 1296.27,313.44" fill="#e6e0e0" shape-rendering="crispEdges"/>
<polygon points="1281.38,320.28 1269.30,317.88 1273.51,304.01 1284.89,308.73" fill="#ebe9ed" shape-rendering="crispEdges"/>
<polygon points="1257.22,315.48 1245.13,313.07 1250.74,294.58 1262.12,299.30" fill="#eae6ea" shape-rendering="crispEdges"/>
<polygon points="1341.80,332.30 1330.42,327.59 1331.56,325.46 1341.80,332.30" fill="#ebe9ed" shape-rendering="crispEdges"/>
<polygon points="1330.42,327.59 1319.04,322.87 1321.31,318.61 1331.56,325.46" fill="#e5dedc" shape-rendering="crispEdges"/>
<polygon points="1319.04,322.87 1307.65,318.16 1311.07,311.77 1321.31,318.61" fill="#eae6ea" shape-rendering="crispEdges"/>
<polygon points="1307.65,318.16 1296.27,313.44 1300.83,304.92 1311.07,311.77" fill="#ebe9ed" shape-rendering="crispEdges"/>
<polygon points="1296.27,313.44 1284.89,308.73 1290.58,298.08 1300.83,304.92" fill="#e8e4e7" shape-rendering="crispEdges"/>
<polygon points="1341.80,332.30 1331.56,325.46 1333.09,323.59 1341.80,332.30" fill="#ebe9ed" shape-rendering="crispEdges"/>
<polygon points="1331.56,325.46 1321.31,318.61 1324.38,314.88 1333.09,323.59" fill="#e5dedc" shape-rendering="crispEdges"/>
<polygon points="1321.31,318.61 1311.07,311.77 1315.67,306.17 1324.38,314.88" fill="#eae6ea" shape-rendering="crispEdges"/>
<polygon points="1333.09,323.59 1324.38,314.88 1328.11,311.81 1334.96,322.06" fill="#e5dedc" shape-rendering="crispEdges"/>
<polygon points="1324.38,314.88 1315.67,306.17 1321.27,301.57 1328.11,311.81" fill="#ebe9ed" shape-rendering="crispEdges"/>
<polygon points="1334.96,322.06 1328.11,311.81 1332.37,309.54 1337.09,320.92" fill="#e7e2e4" shape-rendering="crispEdges"/>
<polygon points="1337.09,320.92 1332.37,309.54 1336.99,308.13 1339.40,320.22" fill="#eae6ea" shape-rendering="crispEdges"/>
<polygon points="1332.37,309.54 1327.66,298.15 1334.59,296.05 1336.99,308.13" fill="#ebe9ed" shape-rendering="crispEdges"/>
<polygon points="1341.80,332.30 1339.40,320.22 1341.80,319.98 1341.80,332.30" fill="#e8e4e7" shape-rendering="crispEdges"/>
<polygon points="1339.40,320.22 1336.99,308.13 1341.80,307.66 1341.80,319.98" fill="#ebe9ed" shape-rendering="crispEdges"/>
<g stroke="#b0b0b0" stroke-width="1.1" fill="none">
<line x1="1342.50" y1="97.60" x2="1342.50" y2="566.40"/>
<line x1="1107.30" y1="332.50" x2="1576.10" y2="332.50"/>
<line x1="1342.50" y1="332.50" x2="1508.25" y2="166.75"/>
<line x1="1342.50" y1="332.50" x2="1508.25" y2="498.25"/>
<line x1="1342.50" y1="332.50" x2="1176.75" y2="498.25"/>
<line x1="1342.50" y1="332.50" x2="1176.75" y2="166.75"/>
<circle cx="1341.70" cy="332.00" r="45.65"/>
<circle cx="1341.70" cy="332.00" r="91.30"/>
<circle cx="1341.70" cy="332.00" r="136.95"/>
<circle cx="1341.70" cy="332.00" r="182.60"/>
<circle cx="1341.70" cy="332.00" r="228.25"/>
</g>
</g>
<circle cx="1341.70" cy="332.00" r="234.40" fill="none" stroke="#000" stroke-width="1.3"/>
<rect x="1575.20" y="331.40" width="1.8" height="1.8" fill="#000"/>
<rect x="406.40" y="605.50" width="800.30" height="29.90" fill="url(#cb)" stroke="#000" stroke-width="1.1"/>
<line x1="406.40" y1="635.40" x2="406.40" y2="657.60" stroke="#000" stroke-width="1.1"/>
<line x1="557.40" y1="635.40" x2="557.40" y2="657.60" stroke="#000" stroke-width="1.1"/>
<line x1="708.40" y1="635.40" x2="708.40" y2="657.60" stroke="#000" stroke-width="1.1"/>
<line x1="859.40" y1="635.40" x2="859.40" y2="657.60" stroke="#000" stroke-width="1.1"/>
<line x1="1010.40" y1="635.40" x2="1010.40" y2="657.60" stroke="#000" stroke-width="1.1"/>
<line x1="1161.40" y1="635.40" x2="1161.40" y2="657.60" stroke="#000" stroke-width="1.1"/>
</svg>
<div class="t" style="left:805.10px;top:21.40px;font-size:30.60px;transform:translate(-50%,-50%) scaleX(1.015)">Oct 2005</div>
<div class="t" style="left:273.50px;top:53.28px;font-size:25.50px;transform:translate(-50%,-50%) scaleX(0.944)">CIOFS</div>
<div class="t" style="left:274.35px;top:77.00px;font-size:20.30px;transform:translate(-50%,-50%)">N</div>
<div class="t" style="left:274.20px;top:586.00px;font-size:19.90px;transform:translate(-50%,-50%) scaleX(0.910)">S</div>
<div class="t" style="left:528.03px;top:331.00px;font-size:20.30px;transform:translate(-50%,-50%) scaleX(0.840)">E</div>
<div class="t" style="left:20.70px;top:331.00px;font-size:20.30px;transform:translate(-50%,-50%) scaleX(0.940)">W</div>
<div class="t" style="left:330.56px;top:303.80px;font-size:20.20px;transform:translate(-50%,-50%) scaleX(1.027)">0.5</div>
<div class="t" style="left:372.73px;top:286.33px;font-size:20.20px;transform:translate(-50%,-50%) scaleX(1.027)">1.0</div>
<div class="t" style="left:414.91px;top:268.86px;font-size:20.20px;transform:translate(-50%,-50%) scaleX(1.027)">1.5</div>
<div class="t" style="left:457.08px;top:251.39px;font-size:20.20px;transform:translate(-50%,-50%) scaleX(1.027)">2.0</div>
<div class="t" style="left:499.26px;top:233.92px;font-size:20.20px;transform:translate(-50%,-50%) scaleX(1.027)">2.5</div>
<div class="t" style="left:807.95px;top:53.28px;font-size:25.50px;transform:translate(-50%,-50%) scaleX(0.986)">NWGOA</div>
<div class="t" style="left:808.40px;top:77.00px;font-size:20.30px;transform:translate(-50%,-50%)">N</div>
<div class="t" style="left:808.25px;top:586.00px;font-size:19.90px;transform:translate(-50%,-50%) scaleX(0.910)">S</div>
<div class="t" style="left:1062.08px;top:331.00px;font-size:20.30px;transform:translate(-50%,-50%) scaleX(0.840)">E</div>
<div class="t" style="left:554.75px;top:331.00px;font-size:20.30px;transform:translate(-50%,-50%) scaleX(0.940)">W</div>
<div class="t" style="left:864.61px;top:303.80px;font-size:20.20px;transform:translate(-50%,-50%) scaleX(1.027)">0.5</div>
<div class="t" style="left:906.78px;top:286.33px;font-size:20.20px;transform:translate(-50%,-50%) scaleX(1.027)">1.0</div>
<div class="t" style="left:948.96px;top:268.86px;font-size:20.20px;transform:translate(-50%,-50%) scaleX(1.027)">1.5</div>
<div class="t" style="left:991.13px;top:251.39px;font-size:20.20px;transform:translate(-50%,-50%) scaleX(1.027)">2.0</div>
<div class="t" style="left:1033.31px;top:233.92px;font-size:20.20px;transform:translate(-50%,-50%) scaleX(1.027)">2.5</div>
<div class="t" style="left:1340.70px;top:53.28px;font-size:25.50px;transform:translate(-50%,-50%) scaleX(0.978)">CIOFS-NWGOA</div>
<div class="t" style="left:1342.50px;top:77.00px;font-size:20.30px;transform:translate(-50%,-50%)">N</div>
<div class="t" style="left:1342.35px;top:586.00px;font-size:19.90px;transform:translate(-50%,-50%) scaleX(0.910)">S</div>
<div class="t" style="left:1596.18px;top:331.00px;font-size:20.30px;transform:translate(-50%,-50%) scaleX(0.840)">E</div>
<div class="t" style="left:1088.85px;top:331.00px;font-size:20.30px;transform:translate(-50%,-50%) scaleX(0.940)">W</div>
<div class="t" style="left:1398.71px;top:303.80px;font-size:20.20px;transform:translate(-50%,-50%) scaleX(1.027)">0.5</div>
<div class="t" style="left:1440.88px;top:286.33px;font-size:20.20px;transform:translate(-50%,-50%) scaleX(1.027)">1.0</div>
<div class="t" style="left:1483.06px;top:268.86px;font-size:20.20px;transform:translate(-50%,-50%) scaleX(1.027)">1.5</div>
<div class="t" style="left:1525.23px;top:251.39px;font-size:20.20px;transform:translate(-50%,-50%) scaleX(1.027)">2.0</div>
<div class="t" style="left:1567.41px;top:233.92px;font-size:20.20px;transform:translate(-50%,-50%) scaleX(1.027)">2.5</div>
<div class="t" style="left:406.15px;top:672.80px;font-size:24.65px;transform:translate(-50%,-50%)">0</div>
<div class="t" style="left:556.60px;top:672.80px;font-size:24.65px;transform:translate(-50%,-50%)">10</div>
<div class="t" style="left:707.60px;top:672.80px;font-size:24.65px;transform:translate(-50%,-50%)">20</div>
<div class="t" style="left:858.60px;top:672.80px;font-size:24.65px;transform:translate(-50%,-50%)">30</div>
<div class="t" style="left:1009.10px;top:672.80px;font-size:24.65px;transform:translate(-50%,-50%)">40</div>
<div class="t" style="left:1160.30px;top:672.80px;font-size:24.65px;transform:translate(-50%,-50%)">50</div>
<div class="t" style="left:805.10px;top:701.17px;font-size:24.10px;transform:translate(-50%,-50%) scaleX(1.044)">Currents [m/s] at COI1210; number of occurrences</div>
</body></html>
